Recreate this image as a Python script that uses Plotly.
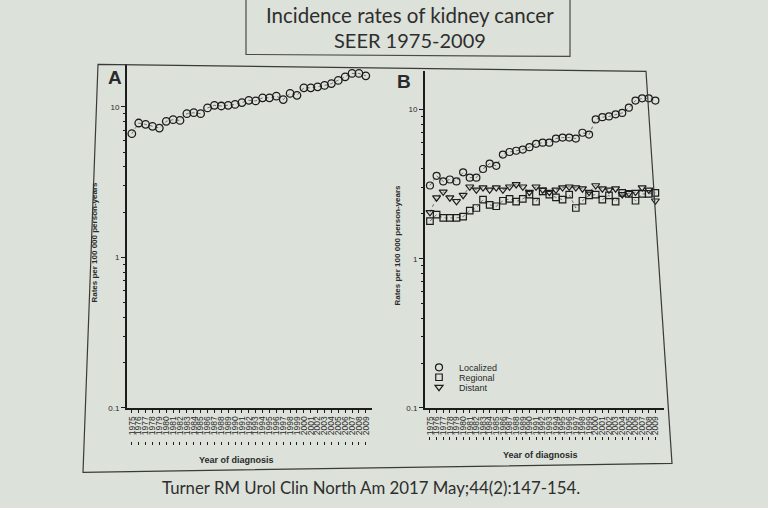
import plotly.graph_objects as go

years = list(range(1975, 2010))

total_rates = [6.64, 7.82, 7.66, 7.43, 7.24, 8.02, 8.23, 8.14, 9.02, 9.16,
               9.02, 9.85, 10.25, 10.15, 10.25, 10.4, 10.7, 11.07, 10.96, 11.5,
               11.5, 11.8, 11.2, 12.3, 11.95, 13.4, 13.4, 13.6, 13.9, 14.3,
               15.0, 15.85, 16.7, 16.7, 16.1]

localized = [3.1, 3.6, 3.3, 3.4, 3.3, 3.8, 3.5, 3.5, 4.0, 4.35,
             4.2, 5.0, 5.2, 5.3, 5.4, 5.6, 5.9, 6.0, 6.0, 6.4,
             6.5, 6.5, 6.4, 7.0, 6.8, 8.6, 8.9, 9.0, 9.3, 9.5,
             10.3, 11.5, 11.9, 11.9, 11.5]

regional = [1.79, 1.98, 1.88, 1.88, 1.88, 1.92, 2.1, 2.19, 2.49, 2.3,
            2.25, 2.45, 2.52, 2.42, 2.52, 2.69, 2.42, 2.83, 2.69, 2.58,
            2.49, 2.69, 2.19, 2.45, 2.66, 2.69, 2.49, 2.66, 2.42, 2.77,
            2.72, 2.45, 2.72, 2.72, 2.77]

distant = [2.05, 2.57, 2.81, 2.57, 2.43, 2.67, 3.04, 2.9, 3.0, 2.9,
           3.0, 2.9, 3.04, 3.15, 3.04, 2.8, 3.04, 2.9, 2.8, 2.9,
           3.0, 3.04, 3.0, 2.95, 2.8, 3.1, 2.95, 2.9, 2.95, 2.7,
           2.75, 2.8, 3.0, 2.9, 2.45]

series_b = [("Localized", localized, "circle-open", 7),
            ("Regional", regional, "square-open", 6.5),
            ("Distant", distant, "triangle-down-open", 7)]

y_major = [0.1, 1, 10]
y_major_text = ["0.1", "1", "10"]
y_minor = [0.2, 0.3, 0.4, 0.5, 0.6, 0.7, 0.8, 0.9, 2, 3, 4, 5, 6, 7, 8, 9]

title_lines = ["Incidence rates of kidney cancer", "SEER 1975-2009"]
citation = "Turner RM Urol Clin North Am 2017 May;44(2):147-154."
y_title = "Rates per 100 000 person-years"
x_title = "Year of diagnosis"

W, H = 768, 508
BG = "#dce1d9"
INK = "#1c1c1c"
AX_FONT = "Liberation Sans"


def px(x):
    return x / W


def py(y):
    return 1 - y / H


fig = go.Figure()

# Panel A
fig.add_trace(go.Scatter(x=years, y=total_rates, mode="lines", xaxis="x", yaxis="y",
                         line=dict(color="#555", width=0.8, dash="dot"),
                         showlegend=False, hoverinfo="skip"))
fig.add_trace(go.Scatter(x=years, y=total_rates, mode="markers", xaxis="x", yaxis="y",
                         marker=dict(symbol="circle-open", size=7.5, color=INK,
                                     line=dict(width=1.3, color=INK)),
                         showlegend=False, name="Total"))
# ghost trace for second tick row of A
fig.add_trace(go.Scatter(x=years, y=total_rates, mode="markers", xaxis="x3", yaxis="y",
                         marker=dict(opacity=0), showlegend=False, hoverinfo="skip"))

# Panel B
legend_names = ["legend", "legend2", "legend3"]
for (name, vals, sym, sz), lg in zip(series_b, legend_names):
    fig.add_trace(go.Scatter(x=years, y=vals, mode="lines", xaxis="x2", yaxis="y2",
                             line=dict(color="#555", width=0.8, dash="dot"),
                             showlegend=False, hoverinfo="skip"))
    fig.add_trace(go.Scatter(x=years, y=vals, mode="markers", xaxis="x2", yaxis="y2",
                             name=name, legend=lg,
                             marker=dict(symbol=sym, size=sz, color=INK,
                                         line=dict(width=1.2, color=INK))))
fig.add_trace(go.Scatter(x=years, y=localized, mode="markers", xaxis="x4", yaxis="y2",
                         marker=dict(opacity=0), showlegend=False, hoverinfo="skip"))

xcommon = dict(tickmode="array", tickvals=years, ticktext=[str(y) for y in years],
               tickangle=-90, tickfont=dict(family=AX_FONT, size=8.5, color="#2a2a2a"),
               ticks="outside", ticklen=3, tickwidth=1.2, tickcolor=INK,
               showline=True, linecolor=INK, linewidth=2, showgrid=False,
               zeroline=False, fixedrange=True)
ycommon = dict(type="log", tickmode="array", tickvals=y_major, ticktext=y_major_text,
               tickfont=dict(family=AX_FONT, size=8, color="#2a2a2a"),
               ticks="outside", ticklen=4, tickwidth=1.2, tickcolor=INK,
               minor=dict(tickmode="array", tickvals=y_minor, ticks="outside",
                          ticklen=2.5, tickwidth=1, tickcolor=INK),
               showline=True, linecolor=INK, linewidth=2, showgrid=False,
               zeroline=False, fixedrange=True)
x2row = dict(tickmode="array", tickvals=years, showticklabels=False,
             ticks="outside", ticklen=3, tickwidth=1, tickcolor=INK,
             showline=False, showgrid=False, zeroline=False, fixedrange=True,
             anchor="free", side="bottom")

layout = dict(
    width=W, height=H, margin=dict(l=0, r=0, t=0, b=0),
    paper_bgcolor=BG, plot_bgcolor="rgba(0,0,0,0)",
    xaxis=dict(domain=[px(127), px(372)], range=[1974.3, 2009.9], anchor="y", **xcommon),
    yaxis=dict(domain=[py(412), py(65)], range=[-1, 1.283], anchor="x", **ycommon),
    xaxis2=dict(domain=[px(425), px(664)], range=[1974.25, 2010.3], anchor="y2", **xcommon),
    yaxis2=dict(domain=[py(412), py(72)], range=[-1, 1.257], anchor="x2", **ycommon),
    xaxis3=dict(overlaying="x", range=[1974.3, 2009.9], position=py(445), **x2row),
    xaxis4=dict(overlaying="x2", range=[1974.25, 2010.3], position=py(440), **x2row),
    showlegend=True,
)

for lg, yc in zip(legend_names, [371, 381, 391]):
    layout[lg] = dict(x=px(419), y=py(yc), xanchor="left", yanchor="middle",
                      bgcolor="rgba(0,0,0,0)", borderwidth=0, itemwidth=30,
                      font=dict(family=AX_FONT, size=9, color="#2a2a2a"),
                      tracegroupgap=0)

fig.update_layout(**layout)

shapes = []
# figure frame (slightly skewed like the photographed slide)
fx = [98, 646, 672, 83]
fy = [65, 72, 468, 477]
path = "M {} {} L {} {} L {} {} L {} {} Z".format(
    px(fx[0]), py(fy[0]), px(fx[1]), py(fy[1]), px(fx[2]), py(fy[2]), px(fx[3]), py(fy[3]))
shapes.append(dict(type="path", xref="paper", yref="paper", path=path,
                   line=dict(color="#3a3a3a", width=1.2)))
# title box
tpath = "M {} {} L {} {} L {} {} L {} {}".format(
    px(246), py(-2), px(246), py(55), px(570), py(57), px(570), py(-2))
shapes.append(dict(type="path", xref="paper", yref="paper", path=tpath,
                   line=dict(color="#4a4a4a", width=1.2)))
fig.update_layout(shapes=shapes)


def note(text, x, y, size, family=AX_FONT, angle=0, color="#2a2a2a"):
    return dict(text=text, x=px(x), y=py(y), xref="paper", yref="paper",
                xanchor="center", yanchor="middle", showarrow=False, textangle=angle,
                font=dict(family=family, size=size, color=color))


ann = [
    note(title_lines[0], 410, 15, 20.5, "Lato", color="#2e2e2e"),
    note(title_lines[1], 410, 40, 20, "Lato", color="#2e2e2e"),
    note(citation, 371, 492, 16.8, "Lato", color="#2e2e2e"),
    note("<b>A</b>", 115, 78, 19),
    note("<b>B</b>", 404, 82, 19),
]
for xx, yy in [(95, 245), (398, 248)]:
    ann.append(note("<b>" + y_title + "</b>", xx, yy, 8, angle=-90))
for xx, yy in [(236, 465), (540, 460)]:
    ann.append(note("<b>" + x_title + "</b>", xx, yy, 9))
fig.update_layout(annotations=ann)

fig.write_html("out.html")
